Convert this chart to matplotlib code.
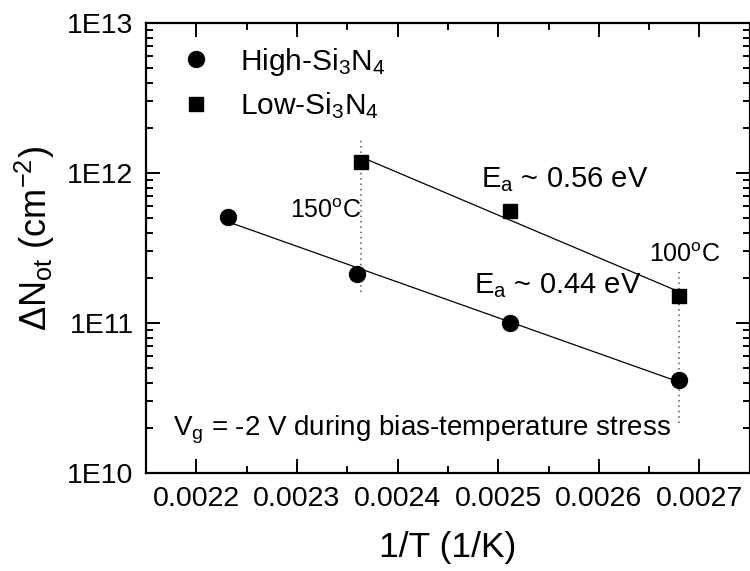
import numpy as np
import matplotlib
matplotlib.use("Agg")
import matplotlib.pyplot as plt
from matplotlib.lines import Line2D

plt.rcParams["font.family"] = ["Liberation Sans", "DejaVu Sans"]
plt.rcParams["mathtext.fontset"] = "custom"
plt.rcParams["mathtext.rm"] = "Liberation Sans"
plt.rcParams["mathtext.it"] = "Liberation Sans"
plt.rcParams["mathtext.default"] = "regular"

# 1/T for 175, 150, 125, 100 C
inv_t_high = [0.0022314, 0.0023600, 0.0025116, 0.0026799]
n_ot_high = [5.1e11, 2.12e11, 1.0e11, 4.2e10]

inv_t_low = [0.0023632, 0.0025116, 0.0026799]
n_ot_low = [1.19e12, 5.6e11, 1.51e11]

x_ticks = [0.0022, 0.0023, 0.0024, 0.0025, 0.0026, 0.0027]
x_tick_labels = ["0.0022", "0.0023", "0.0024", "0.0025", "0.0026", "0.0027"]
y_ticks = [1e10, 1e11, 1e12, 1e13]
y_tick_labels = ["1E10", "1E11", "1E12", "1E13"]

# temperature guide lines: (x, y_bottom, y_top)
guide_150 = (0.0023632, 1.6e11, 1.65e12)
guide_100 = (0.0026799, 2.15e10, 2.2e11)

fig = plt.figure(figsize=(7.5, 5.71), dpi=100)
ax = fig.add_axes([0.1947, 0.1716, 0.805, 0.7881])


def arrhenius_fit(x, y):
    x = np.asarray(x)
    k, b = np.polyfit(x, np.log10(y), 1)
    xs = np.array([x.min(), x.max()])
    return xs, 10 ** (k * xs + b)


for x, y in [(inv_t_high, n_ot_high), (inv_t_low, n_ot_low)]:
    fx, fy = arrhenius_fit(x, y)
    ax.plot(fx, fy, color="black", lw=0.9, zorder=2)

for gx, gy0, gy1 in [guide_150, guide_100]:
    ax.plot([gx, gx], [gy0, gy1], color="#555555", lw=1.1, ls=(0, (1, 2.5)), zorder=1)

ax.plot(inv_t_high, n_ot_high, "o", color="black", ms=11.5, zorder=3)
ax.plot(inv_t_low, n_ot_low, "s", color="black", ms=9.5, zorder=3)

ax.set_yscale("log")
ax.set_xlim(0.00215, 0.00275)
ax.set_ylim(1e10, 1e13)
ax.set_xticks(x_ticks)
ax.set_xticklabels(x_tick_labels)
ax.set_xticks(np.arange(0.00225, 0.0028, 0.0001), minor=True)
ax.set_yticks(y_ticks)
ax.set_yticklabels(y_tick_labels)
ax.yaxis.set_minor_locator(matplotlib.ticker.LogLocator(base=10, subs=np.arange(2, 10)))
ax.yaxis.set_minor_formatter(matplotlib.ticker.NullFormatter())

ax.tick_params(which="both", direction="in", top=True, right=True, width=1.4, labelsize=20.5)
ax.tick_params(which="major", length=10)
ax.tick_params(which="minor", length=5)
ax.tick_params(axis="y", pad=9)
ax.tick_params(axis="x", pad=9)
for s in ax.spines.values():
    s.set_linewidth(1.6)

ax.set_xlabel("1/T (1/K)", fontsize=25.5, labelpad=14)
ax.set_ylabel(r"$\Delta$N$_{ot}$ (cm$^{-2}$)", fontsize=26)
ax.yaxis.set_label_coords(-0.148, 0.52)

ax.text(0.002293, 5.0e11, r"150$^{o}$C", fontsize=18)
ax.text(0.002650, 2.55e11, r"100$^{o}$C", fontsize=18)
ax.text(0.0024833, 8.07e11, r"E$_a$ ~ 0.56 eV", fontsize=21)
ax.text(0.0024764, 1.585e11, r"E$_a$ ~ 0.44 eV", fontsize=21)
ax.text(0.0021768, 1.79e10, r"V$_g$ = -2 V during bias-temperature stress", fontsize=20)

handles = [
    Line2D([], [], marker="o", color="black", ls="none", ms=11.5),
    Line2D([], [], marker="s", color="black", ls="none", ms=9.5),
]
ax.legend(handles, [r"High-Si$_3$N$_4$", r"Low-Si$_3$N$_4$"], loc="upper left",
          bbox_to_anchor=(0.047, 0.95), frameon=False, fontsize=21.5,
          handlelength=1.45, handletextpad=0.75, labelspacing=0.42,
          borderpad=0, borderaxespad=0)

fig.savefig("out.png", dpi=100)
